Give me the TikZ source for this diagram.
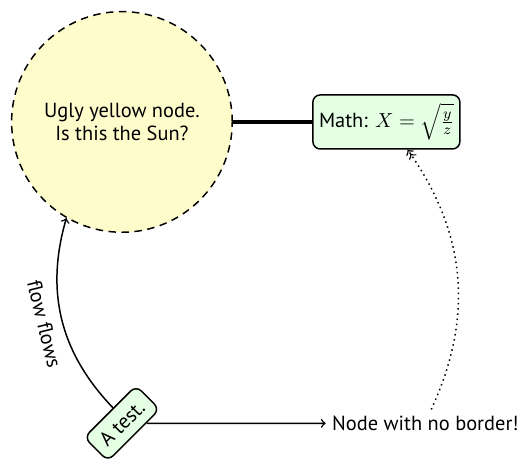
\documentclass[tikz,border=0pt]{standalone}
\usepackage{fontspec}
\setmainfont{PT Sans}
\usepackage{amsmath}
\begin{document}
\begin{tikzpicture}[
    font=\fontsize{11}{12.5}\selectfont,
    box/.style = {draw, thick, rounded corners, fill=green!10},
    arr/.style = {->, thick}
  ]
    \useasboundingbox (0,0) rectangle (9.87,8.74);
    \node[circle, draw, thick, dash pattern=on 4pt off 3pt, fill=yellow!20,
      minimum size=4.18cm, inner sep=0pt, align=center] (sun) at (2.31,6.43)
      {Ugly yellow node.\\Is this the Sun?};
    \node[box, inner ysep=4.5pt] (math) at (7.32,6.43) {Math: $X=\sqrt{\frac{y}{z}}$};
    \node[box, rotate=45, inner xsep=5pt, inner ysep=5pt] (test) at (2.31,0.72) {A test.};
    \node (noborder) at (8.06,0.72) {Node with no border!};
    \draw[line width=2pt] (sun) -- (math);
    \draw[arr] (test) to[bend left] node[sloped, below=2pt] {flow flows} (sun);
    \draw[arr] (test) -- (noborder);
    \draw[->>, thick, dotted] (noborder) to[bend right] (math);
\end{tikzpicture}
\end{document}
